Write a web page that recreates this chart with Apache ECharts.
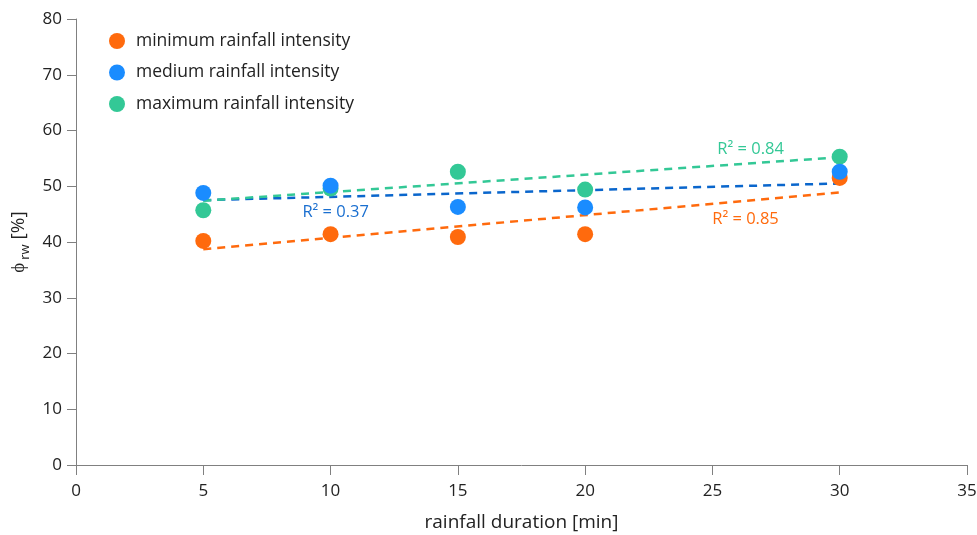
<!DOCTYPE html>
<html>
<head>
<meta charset="utf-8">
<script src="https://cdn.jsdelivr.net/npm/echarts@6/dist/echarts.min.js"></script>
<style>
  html, body { margin: 0; padding: 0; background: #fff; }
  #main { width: 977px; height: 535px; }
</style>
</head>
<body>
<div id="main"></div>
<script>
// rainfall duration [min]
var durations = [5, 10, 15, 20, 30]
var seriesNames = ['minimum rainfall intensity', 'medium rainfall intensity', 'maximum rainfall intensity']
// phi_rw [%]
var minValues = [40.2, 41.4, 40.9, 41.4, 51.5]
var medValues = [48.8, 50.1, 46.3, 46.2, 52.6]
var maxValues = [45.7, 49.6, 52.6, 49.4, 55.3]
// trend line end points (x = 5 and x = 30)
var trendX = [5, 30]
var minTrend = [38.7, 48.9]
var medTrend = [47.5, 50.5]
var maxTrend = [47.4, 55.2]
var r2Labels = ['R\u00b2 = 0.85', 'R\u00b2 = 0.37', 'R\u00b2 = 0.84']

var colors = ['#ff6a0d', '#1a8cff', '#33c896']
var trendColors = ['#ff6a0d', '#0a66cc', '#33c896']
var labelColors = ['#ff6a0d', '#1a6fd0', '#33c896']
var font = 'Open Sans'

function pairs(xs, ys) {
  var out = []
  for (var i = 0; i < xs.length; i++) out.push([xs[i], ys[i]])
  return out
}

const myCharts = echarts.init(document.getElementById('main'))
var values = [minValues, medValues, maxValues]
var trends = [minTrend, medTrend, maxTrend]
// label anchor (data coordinates) for each R² text
var labelAt = [[26.3, 44.1], [10.2, 45.4], [26.5, 56.6]]

var series = []
for (var s = 0; s < 3; s++) {
  series.push({
    name: seriesNames[s] + ' trend',
    type: 'line',
    data: pairs(trendX, trends[s]),
    symbol: 'none',
    z: 1,
    lineStyle: { color: trendColors[s], width: 2.5, type: [8, 6] },
    markPoint: {
      symbol: 'rect',
      symbolSize: 1,
      itemStyle: { color: 'rgba(0,0,0,0)' },
      label: {
        show: true,
        formatter: r2Labels[s],
        color: labelColors[s],
        fontFamily: font,
        fontSize: 16.5
      },
      data: [{ coord: labelAt[s] }]
    }
  })
}
// scatter drawn in order max, min, med so that blue sits on top like the reference
var order = [2, 0, 1]
for (var k = 0; k < order.length; k++) {
  var j = order[k]
  series.push({
    name: seriesNames[j],
    type: 'scatter',
    data: pairs(durations, values[j]),
    symbolSize: 16,
    z: 3 + k,
    itemStyle: { color: colors[j], opacity: 1 }
  })
}

const option = {
  animation: false,
  textStyle: { fontFamily: font },
  legend: {
    data: seriesNames.map(function (n) { return { name: n, icon: 'circle' } }),
    orient: 'vertical',
    left: 104,
    top: 27,
    itemWidth: 16,
    itemHeight: 16,
    itemGap: 13.5,
    textStyle: { fontFamily: font, fontSize: 17.5, color: '#222', padding: [0, 0, 0, 6] }
  },
  grid: { left: 76, right: 10, top: 19, bottom: 70, containLabel: false, outerBoundsMode: 'none' },
  xAxis: {
    type: 'value',
    min: 0,
    max: 35,
    interval: 5,
    name: 'rainfall duration [min]',
    nameLocation: 'middle',
    nameGap: 48,
    nameTextStyle: { fontFamily: font, fontSize: 19, color: '#222' },
    splitLine: { show: false },
    axisLine: { lineStyle: { color: '#808080', width: 1 } },
    axisTick: { show: true, length: 10, lineStyle: { color: '#808080' } },
    axisLabel: { fontFamily: font, fontSize: 17, color: '#222', margin: 18 }
  },
  yAxis: {
    type: 'value',
    min: 0,
    max: 80,
    interval: 10,
    name: '{a|\u03d5}{b|rw}{a| [%]}',
    nameLocation: 'middle',
    nameGap: 42,
    nameTextStyle: {
      rich: {
        a: { fontFamily: font, fontSize: 19, color: '#222' },
        b: { fontFamily: font, fontSize: 13, color: '#222', padding: [14, 0, 0, 3] }
      }
    },
    splitLine: { show: false },
    axisLine: { show: true, lineStyle: { color: '#808080', width: 1 } },
    axisTick: { show: true, length: 9, lineStyle: { color: '#808080' } },
    axisLabel: { fontFamily: font, fontSize: 17, color: '#222', margin: 14 }
  },
  series: series
}
myCharts.setOption(option)
</script>
</body>
</html>
